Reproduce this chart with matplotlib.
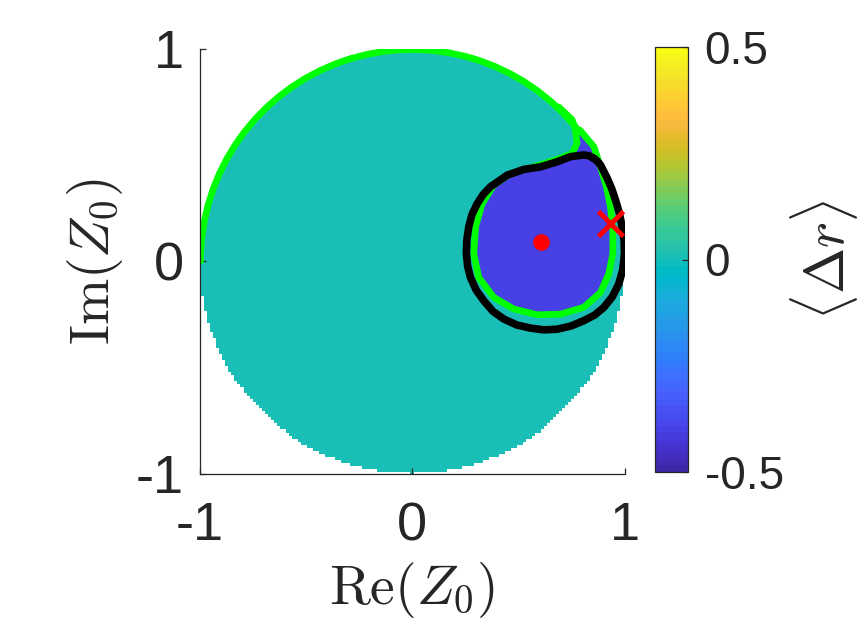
import numpy as np
import matplotlib
matplotlib.use("Agg")
import matplotlib.pyplot as plt
from matplotlib.colors import ListedColormap
from matplotlib.path import Path
from matplotlib.patches import PathPatch
from matplotlib.transforms import Affine2D

# ---------------- data ----------------
parula_rgb = [
    [0.2422, 0.1504, 0.6603], [0.2504, 0.1650, 0.7076], [0.2578, 0.1818, 0.7511],
    [0.2647, 0.1978, 0.7952], [0.2706, 0.2147, 0.8364], [0.2751, 0.2342, 0.8710],
    [0.2783, 0.2559, 0.8991], [0.2803, 0.2782, 0.9221], [0.2813, 0.3006, 0.9414],
    [0.2810, 0.3228, 0.9579], [0.2795, 0.3447, 0.9717], [0.2760, 0.3667, 0.9829],
    [0.2699, 0.3892, 0.9906], [0.2602, 0.4123, 0.9952], [0.2440, 0.4358, 0.9988],
    [0.2206, 0.4603, 0.9973], [0.1963, 0.4847, 0.9892], [0.1834, 0.5074, 0.9798],
    [0.1786, 0.5289, 0.9682], [0.1764, 0.5499, 0.9520], [0.1687, 0.5703, 0.9359],
    [0.1540, 0.5902, 0.9218], [0.1460, 0.6091, 0.9079], [0.1380, 0.6276, 0.8973],
    [0.1248, 0.6459, 0.8883], [0.1113, 0.6635, 0.8763], [0.0952, 0.6798, 0.8598],
    [0.0689, 0.6948, 0.8394], [0.0297, 0.7082, 0.8163], [0.0036, 0.7203, 0.7917],
    [0.0067, 0.7312, 0.7660], [0.0433, 0.7411, 0.7394], [0.0964, 0.7500, 0.7120],
    [0.1408, 0.7584, 0.6842], [0.1717, 0.7670, 0.6554], [0.1938, 0.7758, 0.6251],
    [0.2161, 0.7843, 0.5923], [0.2470, 0.7918, 0.5567], [0.2906, 0.7973, 0.5188],
    [0.3406, 0.8008, 0.4789], [0.3909, 0.8029, 0.4354], [0.4456, 0.8024, 0.3909],
    [0.5044, 0.7993, 0.3480], [0.5616, 0.7942, 0.3045], [0.6174, 0.7876, 0.2612],
    [0.6720, 0.7793, 0.2227], [0.7242, 0.7698, 0.1910], [0.7738, 0.7598, 0.1646],
    [0.8203, 0.7498, 0.1535], [0.8634, 0.7406, 0.1596], [0.9035, 0.7330, 0.1774],
    [0.9393, 0.7288, 0.2100], [0.9728, 0.7298, 0.2394], [0.9956, 0.7434, 0.2371],
    [0.9970, 0.7659, 0.2199], [0.9952, 0.7893, 0.2028], [0.9892, 0.8136, 0.1885],
    [0.9786, 0.8386, 0.1766], [0.9676, 0.8639, 0.1643], [0.9610, 0.8890, 0.1537],
    [0.9597, 0.9135, 0.1423], [0.9628, 0.9373, 0.1265], [0.9691, 0.9606, 0.1064],
    [0.9769, 0.9839, 0.0805]]

disk_value = 0.0        # <Delta r> over most of the disk
region_value = -0.4     # <Delta r> inside the green loop
grid_n = 141            # grid resolution of the sampled field
clim = (-0.5, 0.5)

# black closed contour
black_x = [0.856, 0.833, 0.808, 0.746, 0.683, 0.605, 0.526, 0.448, 0.369, 0.335,
           0.307, 0.282, 0.267, 0.258, 0.256, 0.262, 0.275, 0.302, 0.338, 0.381,
           0.432, 0.493, 0.558, 0.620, 0.683, 0.748, 0.808, 0.860, 0.903, 0.943,
           0.973, 0.992, 1.000, 0.998, 0.989, 0.976, 0.958, 0.940, 0.919, 0.887,
           0.872]
black_y = [0.483, 0.495, 0.499, 0.491, 0.467, 0.443, 0.431, 0.404, 0.349, 0.313,
           0.270, 0.218, 0.160, 0.098, 0.034, -0.025, -0.077, -0.137, -0.187, -0.237,
           -0.273, -0.301, -0.316, -0.324, -0.321, -0.306, -0.281, -0.254, -0.218, -0.168,
           -0.108, -0.040, 0.034, 0.098, 0.160, 0.225, 0.286, 0.340, 0.389, 0.452,
           0.470]

# green curve: arc of the unit circle, then the loop around the blue region
green_arc_deg = (38, 180)
green_arc_radius = 0.995
green_x = [0.790, 0.856, 0.887, 0.915, 0.934, 0.945, 0.945, 0.926, 0.887, 0.808,
           0.699, 0.589, 0.479, 0.385, 0.314, 0.291, 0.299, 0.330, 0.385, 0.464,
           0.573, 0.683, 0.754, 0.777, 0.769, 0.754, 0.722, 0.690]
green_y = [0.616, 0.538, 0.443, 0.349, 0.254, 0.144, 0.034, -0.061, -0.148, -0.218,
           -0.250, -0.253, -0.226, -0.171, -0.077, 0.034, 0.160, 0.270, 0.357, 0.412,
           0.443, 0.478, 0.507, 0.554, 0.617, 0.664, 0.695, 0.725]

dot_xy = (0.606, 0.09)
cross_xy = (0.934, 0.18)

x_ticks = [-1, 0, 1]
y_ticks = [-1, 0, 1]
cbar_ticks = [-0.5, 0, 0.5]
cbar_ticklabels = ["-0.5", "0", "0.5"]

# ---------------- figure ----------------
plt.rcParams['font.family'] = ['Liberation Sans', 'DejaVu Sans']
plt.rcParams['mathtext.fontset'] = 'cm'

cmap = ListedColormap(parula_rgb)
fig = plt.figure(figsize=(8.59, 6.25), dpi=100)
ax = fig.add_axes([199 / 859, 1 - 473.5 / 625, 426 / 859, 425 / 625])

g = np.linspace(-1, 1, grid_n)
X, Y = np.meshgrid(g, g)
inside = X ** 2 + Y ** 2 <= 1.0
loop = Path(np.column_stack([green_x, green_y]))
in_loop = loop.contains_points(np.column_stack([X.ravel(), Y.ravel()])).reshape(X.shape)
Z = np.where(inside, disk_value, np.nan)
Z[inside & in_loop] = region_value

mesh = ax.pcolormesh(g, g, Z, shading='nearest', cmap=cmap,
                     vmin=clim[0], vmax=clim[1], zorder=1)

green = '#00ff00'
arc_path = Path.arc(green_arc_deg[0], green_arc_deg[1])
arc_path = Affine2D().scale(green_arc_radius).transform_path(arc_path)
ax.add_patch(PathPatch(arc_path, facecolor='none', edgecolor=green, lw=4.8,
                       zorder=3, capstyle='round', joinstyle='round'))
ax.plot(green_x, green_y, color=green, lw=4.8, zorder=3,
        solid_capstyle='round', solid_joinstyle='round')
ax.plot(black_x + black_x[:1], black_y + black_y[:1], color='black', lw=5.5, zorder=4,
        solid_joinstyle='round', solid_capstyle='round')
ax.plot([dot_xy[0]], [dot_xy[1]], 'o', color='red', ms=11, zorder=5)
ax.plot([cross_xy[0]], [cross_xy[1]], 'x', color='red', ms=18, mew=3.5, zorder=5)

ax.set_xlim(-1, 1)
ax.set_ylim(-1, 1)
ax.set_aspect('equal', adjustable='box')
for s in ['top', 'right']:
    ax.spines[s].set_visible(False)
for s in ['left', 'bottom']:
    ax.spines[s].set_color('#262626')
    ax.spines[s].set_linewidth(0.9)
    ax.spines[s].set_zorder(6)
ax.set_xticks(x_ticks)
ax.set_yticks(y_ticks)
ax.set_xticklabels([str(v) for v in x_ticks])
ax.set_yticklabels([str(v) for v in y_ticks])
ax.tick_params(axis='both', direction='in', length=4, width=0.9, color='#262626',
               labelsize=39, labelcolor='#262626')
ax.tick_params(axis='x', pad=20)
ax.tick_params(axis='y', pad=11)
ax.set_xlabel(r'$\mathrm{Re}(Z_0)$', fontsize=40, labelpad=6, color='#262626')
ax.set_ylabel(r'$\mathrm{Im}(Z_0)$', fontsize=40, labelpad=8, color='#262626')

cax = fig.add_axes([655 / 859, 1 - 472 / 625, 33 / 859, 425 / 625])
cb = fig.colorbar(mesh, cax=cax, ticks=cbar_ticks)
cb.ax.set_yticklabels(cbar_ticklabels)
cb.outline.set_linewidth(0.9)
cb.outline.set_edgecolor('#262626')
cb.ax.tick_params(direction='in', length=4, width=0.9, labelsize=33, pad=12,
                  color='#262626', labelcolor='#262626')
cb.set_label(r'$\langle\Delta r\rangle$', fontsize=40, labelpad=3, color='#262626')

fig.savefig('out.png', dpi=100)
